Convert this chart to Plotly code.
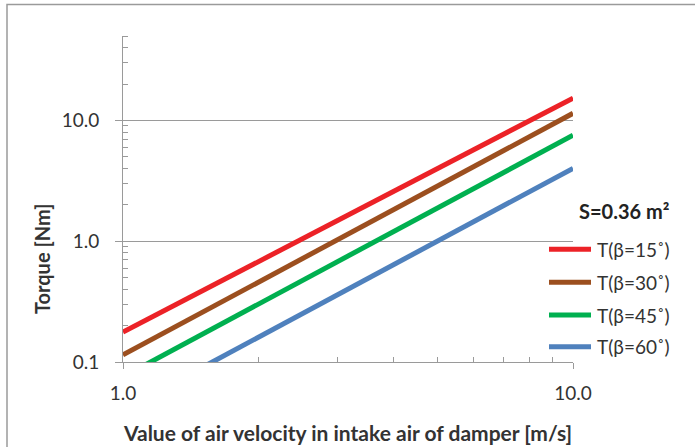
import plotly.graph_objects as go

# Air velocity in the intake [m/s]
velocity = [1, 2, 3, 4, 5, 6, 7, 8, 9, 10]

# Damper torque [Nm] for each blade angle
torque_b15 = [0.177, 0.678, 1.49, 2.60, 4.00, 5.69, 7.67, 9.94, 12.5, 15.3]
torque_b30 = [0.1145, 0.458, 1.03, 1.83, 2.86, 4.12, 5.61, 7.33, 9.27, 11.45]
torque_b45 = [0.0754, 0.302, 0.679, 1.21, 1.89, 2.71, 3.69, 4.83, 6.11, 7.54]
torque_b60 = [0.0401, 0.160, 0.361, 0.642, 1.00, 1.44, 1.96, 2.57, 3.25, 4.01]

series_names = ["T(β=15˚)", "T(β=30˚)", "T(β=45˚)", "T(β=60˚)"]
series_colors = ["#EC2227", "#9C4F1F", "#00B050", "#4F81BD"]
series_values = [torque_b15, torque_b30, torque_b45, torque_b60]

x_ticks = [1, 10]
x_ticktext = ["1.0", "10.0"]
y_ticks = [0.1, 1, 10]
y_ticktext = ["0.1", "1.0", "10.0"]
x_minor = [2, 3, 4, 5, 6, 7, 8, 9]
y_minor = [0.2, 0.3, 0.4, 0.5, 0.6, 0.7, 0.8, 0.9,
           2, 3, 4, 5, 6, 7, 8, 9, 20, 30, 40, 50]

legend_title = "S=0.36 m²"
x_title = "Value of air velocity in intake air of damper [m/s]"
y_title = "Torque [Nm]"

FONT = "Lato"
TXT = "#333333"
AX = "#9A9A9A"

W, H = 695, 447
L, R, T, B = 123, 122, 36, 85
PW, PH = W - L - R, H - T - B


def px(x):
    return (x - L) / PW


def py(y):
    return (H - B - y) / PH


fig = go.Figure()
for name, color, vals in zip(series_names, series_colors, series_values):
    fig.add_trace(go.Scatter(
        x=velocity, y=vals, mode="lines", name=name,
        line=dict(color=color, width=5), showlegend=False,
    ))

axis_common = dict(
    type="log", showline=True, linecolor=AX, linewidth=1,
    zeroline=False, ticks="outside", tickcolor=AX, tickwidth=1,
    tickfont=dict(family=FONT, size=19, color=TXT),
)

fig.update_xaxes(
    **axis_common, range=[0, 1], showgrid=False,
    tickvals=x_ticks, ticktext=x_ticktext, ticklen=6,
    ticklabelstandoff=8,
    minor=dict(tickvals=x_minor, ticks="inside", ticklen=5,
               tickcolor=AX, tickwidth=1, showgrid=False),
)
fig.update_yaxes(
    **axis_common, range=[-1, 1.69897], showgrid=True,
    gridcolor=AX, gridwidth=1,
    tickvals=y_ticks, ticktext=y_ticktext, ticklen=7,
    ticklabelstandoff=12,
    minor=dict(tickvals=y_minor, ticks="inside", ticklen=5,
               tickcolor=AX, tickwidth=1, showgrid=False),
)


def label(text, x, y, size=19, anchor="left", angle=0, color=TXT):
    return dict(text=text, xref="paper", yref="paper", x=px(x), y=py(y),
                xanchor=anchor, yanchor="middle", showarrow=False,
                textangle=angle, font=dict(family=FONT, size=size, color=color))


annotations = [
    label("<b>" + x_title + "</b>", 347, 432, size=21, anchor="center"),
    label("<b>" + y_title + "</b>", 42, 259, size=20, anchor="center", angle=-90),
    label("<b>" + legend_title + "</b>", 577, 210.5, size=20, color="#222222"),
]

shapes = [
    # chart frame
    dict(type="rect", xref="paper", yref="paper",
         x0=px(7), x1=px(720), y0=py(470), y1=py(4.5),
         line=dict(color="#9A9A9A", width=1.5), layer="below"),
]

legend_rows = [249.3, 282.3, 315, 346.7]
for name, color, row in zip(series_names, series_colors, legend_rows):
    shapes.append(dict(type="line", xref="paper", yref="paper",
                       x0=px(549), x1=px(591), y0=py(row), y1=py(row),
                       line=dict(color=color, width=5)))
    annotations.append(label(name, 595, row))

fig.update_layout(
    width=W, height=H,
    margin=dict(l=L, r=R, t=T, b=B),
    paper_bgcolor="white", plot_bgcolor="white",
    annotations=annotations, shapes=shapes, showlegend=False,
)

fig.write_html("out.html")
